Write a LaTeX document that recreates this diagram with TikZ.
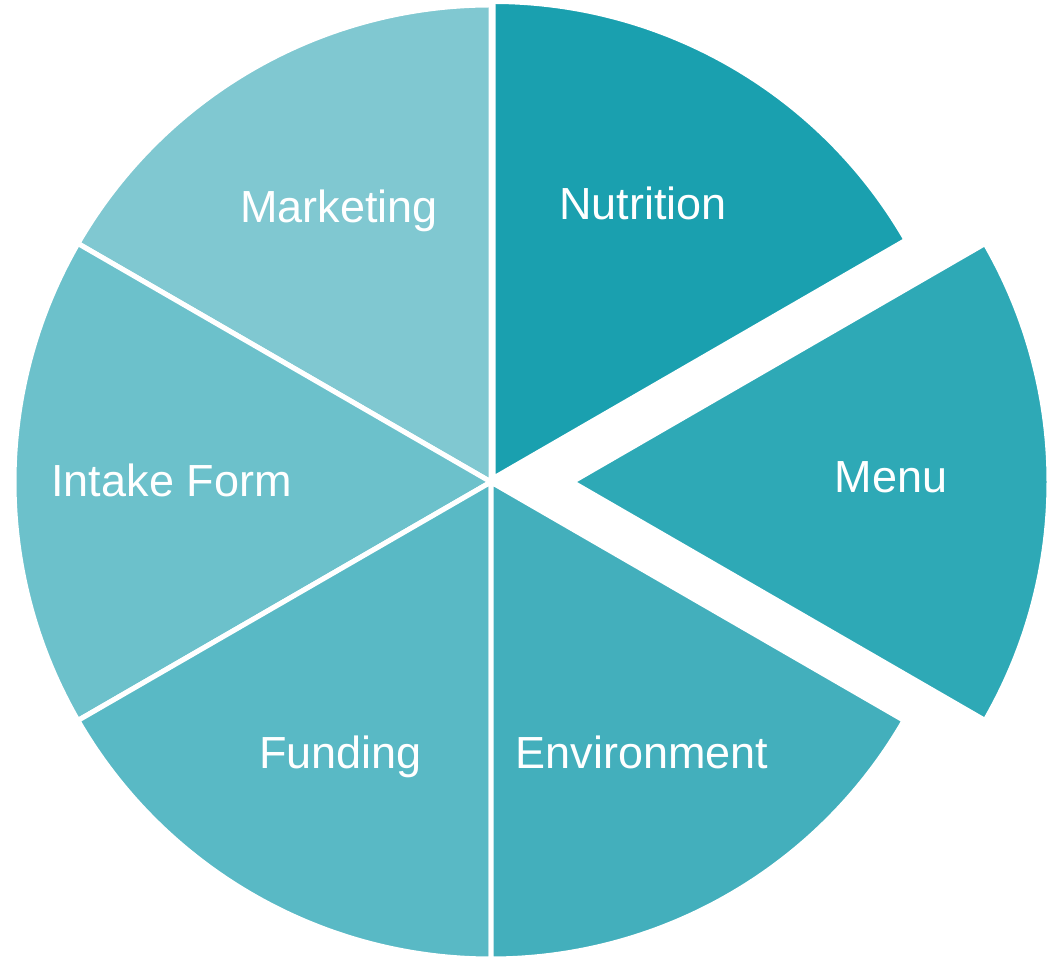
\documentclass[tikz,border=0pt]{standalone}
\usepackage{fontspec}
\setmainfont{Liberation Sans}
\definecolor{cNut}{HTML}{1AA0AF}
\definecolor{cMenu}{HTML}{2EA9B6}
\definecolor{cEnv}{HTML}{43AFBC}
\definecolor{cFund}{HTML}{59B9C5}
\definecolor{cIntake}{HTML}{6CC1CB}
\definecolor{cMark}{HTML}{80C8D1}
\tikzset{
  sector/.style={draw=white, line width=5pt, line join=miter},
  lbl/.style={text=white, anchor=base, inner sep=0pt, font=\fontsize{45}{52}\selectfont}
}
\newcommand{\mysector}[5]{% center, start, end, color, radius
  \fill[sector, fill=#4] #1 -- ++(#2:#5) arc[start angle=#2, end angle=#3, radius=#5] -- cycle;
}
\begin{document}
\begin{tikzpicture}[x=1pt, y=1pt]
\useasboundingbox (0,0) rectangle (1052,958);
\coordinate (C) at (491,476);
\coordinate (CN) at (493,479.5);
\coordinate (CM) at (572,476);
\mysector{(CN)}{30}{90}{cNut}{477}
\mysector{(C)}{90}{150}{cMark}{477}
\mysector{(C)}{150}{210}{cIntake}{477}
\mysector{(C)}{210}{270}{cFund}{477}
\mysector{(C)}{270}{330}{cEnv}{477}
\mysector{(CM)}{-30}{30}{cMenu}{477}
\node[lbl] (nut) at (643,738) {Nutrition};
\node[lbl] (mark) at (339,735.5) {Marketing};
\node[lbl] (intake) at (171.5,461) {Intake Form};
\node[lbl] (menu) at (891,465.5) {Menu};
\node[lbl] (fund) at (340.5,189) {Funding};
\node[lbl] (env) at (642,189) {Environment};
\end{tikzpicture}
\end{document}
